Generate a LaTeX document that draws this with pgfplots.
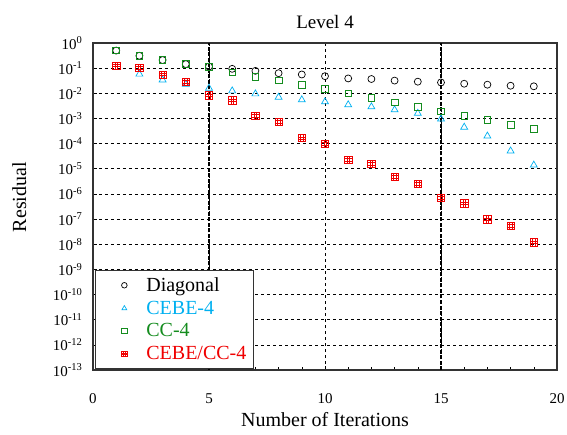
\documentclass[border=0pt]{standalone}
\usepackage{fontspec}
\setmainfont{Liberation Serif}
\usepackage{pgfplots}
\pgfplotsset{compat=1.18}
\usetikzlibrary{calc}
\definecolor{cebe}{RGB}{0,176,240}
\definecolor{ccg}{RGB}{20,140,30}
\definecolor{cred}{RGB}{240,0,0}
\pgfdeclareplotmark{boxgrid}{%
  \pgfpathrectangle{\pgfqpoint{-\pgfplotmarksize}{-\pgfplotmarksize}}{\pgfqpoint{2\pgfplotmarksize}{2\pgfplotmarksize}}%
  \pgfpathmoveto{\pgfqpoint{-0.33\pgfplotmarksize}{-\pgfplotmarksize}}\pgfpathlineto{\pgfqpoint{-0.33\pgfplotmarksize}{\pgfplotmarksize}}%
  \pgfpathmoveto{\pgfqpoint{0.33\pgfplotmarksize}{-\pgfplotmarksize}}\pgfpathlineto{\pgfqpoint{0.33\pgfplotmarksize}{\pgfplotmarksize}}%
  \pgfpathmoveto{\pgfqpoint{-\pgfplotmarksize}{-0.33\pgfplotmarksize}}\pgfpathlineto{\pgfqpoint{\pgfplotmarksize}{-0.33\pgfplotmarksize}}%
  \pgfpathmoveto{\pgfqpoint{-\pgfplotmarksize}{0.33\pgfplotmarksize}}\pgfpathlineto{\pgfqpoint{\pgfplotmarksize}{0.33\pgfplotmarksize}}%
  \pgfusepathqstroke}
\begin{document}
\begin{tikzpicture}
\begin{axis}[
  scale only axis, width=464pt, height=327pt,
  ymode=log, xmin=0, xmax=20, ymin=1e-13, ymax=1,
  xtick={0,5,10,15,20}, minor xtick={1,2,3,4,6,7,8,9,11,12,13,14,16,17,18,19},
  ytick={1e-13,1e-12,1e-11,1e-10,1e-9,1e-8,1e-7,1e-6,1e-5,1e-4,1e-3,1e-2,1e-1,1},
  yticklabels={10\textsuperscript{-13},10\textsuperscript{-12},10\textsuperscript{-11},10\textsuperscript{-10},10\textsuperscript{-9},10\textsuperscript{-8},10\textsuperscript{-7},10\textsuperscript{-6},10\textsuperscript{-5},10\textsuperscript{-4},10\textsuperscript{-3},10\textsuperscript{-2},10\textsuperscript{-1},10\textsuperscript{0}},
  yminorticks=false,
  tick pos=left, tick align=inside,
  major tick length=4pt, minor tick length=3pt,
  /pgf/number format/assume math mode=true,
  tick label style={font=\fontsize{15}{18}\selectfont},
  xticklabel style={yshift=-20pt},
  yticklabel style={xshift=-7pt},
  label style={font=\fontsize{20}{24}\selectfont},
  xlabel={Number of Iterations},
  xlabel style={at={(axis description cs:0.5,-0.153)}, anchor=center},
  ylabel={Residual},
  ylabel style={at={(axis description cs:-0.159,0.529)}, anchor=center},
  title={Level 4},
  title style={font=\fontsize{19}{22}\selectfont, at={(axis description cs:0.5,1.046)}, anchor=center},
  grid=major,
  major grid style={black, dashed, line width=0.6pt},
  axis line style={line width=1.1pt, black!80},
  every tick/.style={black, line width=0.6pt},
  legend cell align=left,
  legend image code/.code={\path[draw=none] (0pt,0pt) -- (44pt,0pt); \draw[#1] plot[only marks] coordinates {(24pt,0pt)};},
  legend style={at={(0.004,0.004)}, anchor=south west, font=\fontsize{20}{22}\selectfont, draw=black!80, line width=1pt, inner xsep=5pt, inner ysep=5pt, row sep=4pt},
  legend image post style={line width=0.6pt, mark size=2.8pt},
]
\coordinate (SW) at (rel axis cs:0,0);
\coordinate (NE) at (rel axis cs:1,1);
\draw[black, line width=1.3pt, dash pattern=on 4pt off 1.5pt] (axis cs:5,1e-13) -- (axis cs:5,1);
\draw[black, line width=1.3pt, dash pattern=on 4pt off 1.5pt] (axis cs:15,1e-13) -- (axis cs:15,1);
\addplot[only marks, mark=o, mark size=3.5pt, black, mark options={line width=0.7pt}] coordinates {
(1,0.50)(2,0.31)(3,0.21)(4,0.145)(5,0.116)(6,0.094)(7,0.078)(8,0.063)(9,0.056)(10,0.048)(11,0.039)(12,0.037)(13,0.032)(14,0.029)(15,0.027)(16,0.024)(17,0.022)(18,0.020)(19,0.019)};
\addlegendentry[text=black]{Diagonal}
\addplot[only marks, mark=triangle, mark size=4pt, cebe, mark options={line width=0.7pt}] coordinates {
(2,0.058)(3,0.034)(4,0.023)(5,0.016)(6,0.0125)(7,0.0095)(8,0.0070)(9,0.0055)(10,0.0046)(11,0.0035)(12,0.0029)(13,0.0022)(14,0.0016)(15,0.00095)(16,0.00045)(17,0.0002)(18,5.1e-5)(19,1.4e-5)};
\addlegendentry[text=cebe]{CEBE-4}
\addplot[only marks, mark=square, mark size=3.3pt, ccg, mark options={line width=0.8pt}] coordinates {
(1,0.50)(2,0.31)(3,0.21)(4,0.145)(5,0.11)(6,0.069)(7,0.046)(8,0.032)(9,0.021)(10,0.015)(11,0.0098)(12,0.0066)(13,0.0043)(14,0.0029)(15,0.0019)(16,0.00126)(17,0.00087)(18,0.00057)(19,0.00038)};
\addlegendentry[text=ccg]{CC-4}
\addplot[only marks, mark=boxgrid, mark size=3.7pt, cred, mark options={line width=0.55pt}] coordinates {
(1,0.127)(2,0.105)(3,0.056)(4,0.029)(5,0.0084)(6,0.0053)(7,0.0013)(8,0.00073)(9,0.000167)(10,1.0e-4)(11,2.3e-5)(12,1.6e-5)(13,4.8e-6)(14,2.5e-6)(15,6.9e-7)(16,4.3e-7)(17,1.0e-7)(18,5.4e-8)(19,1.2e-8)};
\addlegendentry[text=cred]{CEBE/CC-4}
\end{axis}
\pgfresetboundingbox
\path[use as bounding box] ($(SW)+(-93pt,-65pt)$) rectangle ($(NE)+(10pt,43pt)$);
\end{tikzpicture}
\end{document}
